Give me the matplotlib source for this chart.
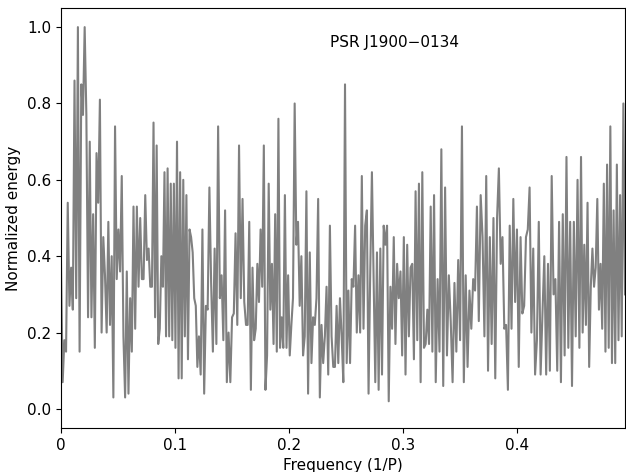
import matplotlib
matplotlib.use("Agg")
import matplotlib.pyplot as plt
import numpy as np

# normalized energy per frequency bin left to right,
# one list per stretch of the frequency axis
energy_a = [0.39, 0.07, 0.18, 0.15, 0.54, 0.27, 0.37, 0.26, 0.86, 0.29, 1.00, 0.15, 0.85,
            0.77, 1.00, 0.77, 0.24, 0.70, 0.24, 0.51, 0.16, 0.67, 0.54, 0.81, 0.20, 0.45]
energy_b = [0.35, 0.20, 0.49, 0.22, 0.40, 0.03, 0.74, 0.34, 0.47, 0.36, 0.61, 0.19, 0.03, 0.36,
            0.04, 0.29, 0.15, 0.53, 0.21, 0.53, 0.32, 0.50, 0.34, 0.34, 0.56, 0.39, 0.42, 0.32]
energy_c = [0.32, 0.75, 0.24, 0.69, 0.17, 0.21, 0.40, 0.32, 0.62, 0.19, 0.63, 0.19, 0.59, 0.18,
            0.59, 0.16, 0.70, 0.08, 0.62, 0.08, 0.60, 0.19, 0.56, 0.13, 0.47, 0.45, 0.41, 0.29,
            0.27, 0.11]
energy_d = [0.19, 0.09, 0.47, 0.04, 0.27, 0.26, 0.58, 0.33, 0.15, 0.42, 0.17, 0.74, 0.29, 0.35,
            0.18, 0.52, 0.07, 0.20, 0.07, 0.24, 0.25, 0.46, 0.22, 0.69, 0.29, 0.55, 0.28]
energy_e = [0.22, 0.22, 0.49, 0.05, 0.37, 0.18, 0.21, 0.38, 0.28, 0.47, 0.32, 0.69, 0.05, 0.14,
            0.59, 0.26, 0.38, 0.17, 0.51, 0.15, 0.76, 0.16, 0.24, 0.16, 0.56, 0.16, 0.35, 0.14,
            0.22]
energy_f = [0.29, 0.80, 0.43, 0.49, 0.27, 0.40, 0.14, 0.19, 0.57, 0.04, 0.41, 0.12, 0.24, 0.22,
            0.29, 0.55, 0.03, 0.22, 0.12, 0.19, 0.32, 0.09, 0.48, 0.19, 0.11, 0.11, 0.27, 0.12]
energy_g = [0.29, 0.19, 0.07, 0.85, 0.12, 0.31, 0.12, 0.34, 0.32, 0.48, 0.20, 0.35, 0.20, 0.61,
            0.21, 0.48, 0.52, 0.04, 0.36, 0.62, 0.35, 0.07, 0.41, 0.05, 0.42, 0.09, 0.48, 0.43]
energy_h = [0.48, 0.02, 0.32, 0.21, 0.45, 0.17, 0.38, 0.29, 0.36, 0.14, 0.45, 0.09, 0.43, 0.19,
            0.37, 0.38, 0.13, 0.57, 0.18, 0.59, 0.07, 0.62, 0.16, 0.17, 0.26, 0.17, 0.53, 0.15,
            0.56]
energy_i = [0.07, 0.34, 0.15, 0.68, 0.06, 0.58, 0.14, 0.35, 0.23, 0.07, 0.33, 0.15, 0.39, 0.18,
            0.74, 0.07, 0.35, 0.11, 0.31, 0.21, 0.34, 0.31, 0.53, 0.23, 0.56, 0.45]
energy_j = [0.19, 0.61, 0.10, 0.45, 0.17, 0.50, 0.08, 0.50, 0.63, 0.38, 0.45, 0.21, 0.22, 0.05,
            0.48, 0.21, 0.55, 0.28, 0.47, 0.11, 0.45, 0.25, 0.27, 0.45, 0.47, 0.58]
energy_k = [0.20, 0.42, 0.09, 0.18, 0.49, 0.09, 0.25, 0.40, 0.09, 0.38, 0.10, 0.61, 0.30, 0.34,
            0.10, 0.49, 0.07, 0.51, 0.14, 0.66, 0.16, 0.49, 0.06, 0.49, 0.19, 0.60]
energy_l = [0.16, 0.66, 0.20, 0.43, 0.22, 0.54, 0.11, 0.32, 0.42, 0.32, 0.37, 0.55, 0.26, 0.38,
            0.21, 0.59, 0.15, 0.64, 0.16, 0.74, 0.12, 0.52, 0.12, 0.64, 0.18, 0.56, 0.19, 0.80,
            0.30]

# frequency where each stretch starts, plus the end of the data
stretch_start = [0.0, 0.0386, 0.0798, 0.121, 0.1623, 0.2035, 0.2447,
                 0.286, 0.3287, 0.3714, 0.4126, 0.4547]
freq_max = 0.4947

stretches = [energy_a, energy_b, energy_c, energy_d, energy_e, energy_f,
             energy_g, energy_h, energy_i, energy_j, energy_k, energy_l]

freq_parts = []
for i, part in enumerate(stretches):
    last = i == len(stretches) - 1
    stop = freq_max if last else stretch_start[i + 1]
    freq_parts.append(np.linspace(stretch_start[i], stop, len(part), endpoint=last))
freq = np.concatenate(freq_parts)
energy = np.concatenate([np.array(p) for p in stretches])

x_ticks = [0, 0.1, 0.2, 0.3, 0.4]
x_ticklabels = ["0", "0.1", "0.2", "0.3", "0.4"]
y_ticks = [0.0, 0.2, 0.4, 0.6, 0.8, 1.0]
title = "PSR J1900\u22120134"

fig = plt.figure(figsize=(6.26, 4.72), dpi=100)
ax = fig.add_axes([0.0974, 0.0932, 0.9010, 0.8898])
ax.plot(freq, energy, color="grey", lw=1.5)
ax.set_xlim(0, freq_max)
ax.set_ylim(-0.05, 1.05)
ax.set_xticks(x_ticks)
ax.set_xticklabels(x_ticklabels)
ax.set_yticks(y_ticks)
ax.tick_params(labelsize=11)
ax.set_xlabel("Frequency (1/P)", fontsize=11)
ax.set_ylabel("Normalized energy", fontsize=11)
ax.text(0.592, 0.919, title, transform=ax.transAxes, ha="center", va="center", fontsize=11)

fig.savefig("out.png", dpi=100)
